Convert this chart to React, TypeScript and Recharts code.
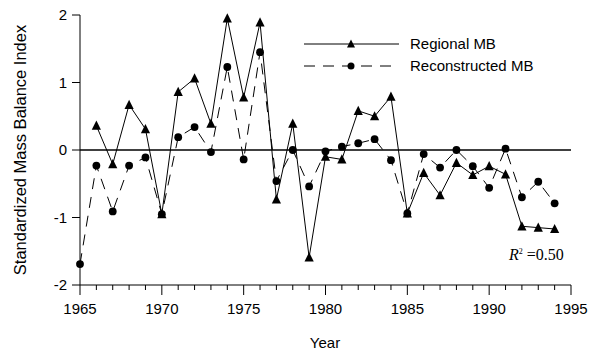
import React from 'react';
import { LineChart, Line, XAxis, YAxis, ReferenceLine, Label } from 'recharts';

const years = [1965, 1966, 1967, 1968, 1969, 1970, 1971, 1972, 1973, 1974, 1975, 1976, 1977, 1978, 1979, 1980, 1981, 1982, 1983, 1984, 1985, 1986, 1987, 1988, 1989, 1990, 1991, 1992, 1993, 1994];
const regionalMB = [null, 0.36, -0.21, 0.67, 0.31, -0.95, 0.86, 1.06, 0.39, 1.95, 0.78, 1.89, -0.73, 0.39, -1.59, -0.1, -0.14, 0.58, 0.5, 0.79, -0.94, -0.34, -0.67, -0.19, -0.37, -0.24, -0.36, -1.13, -1.15, -1.17];
const reconstructedMB = [-1.69, -0.23, -0.91, -0.23, -0.11, -0.95, 0.19, 0.34, -0.03, 1.23, -0.14, 1.45, -0.46, 0.0, -0.54, -0.02, 0.05, 0.1, 0.16, -0.15, -0.94, -0.06, -0.26, 0.0, -0.24, -0.56, 0.02, -0.7, -0.47, -0.79];
const xTicks = [1965, 1966, 1967, 1968, 1969, 1970, 1971, 1972, 1973, 1974, 1975, 1976, 1977, 1978, 1979, 1980, 1981, 1982, 1983, 1984, 1985, 1986, 1987, 1988, 1989, 1990, 1991, 1992, 1993, 1994, 1995];
const xMajorTicks = [1965, 1970, 1975, 1980, 1985, 1990, 1995];
const yTicks = [-2, -1, 0, 1, 2];
const seriesNames = ['Regional MB', 'Reconstructed MB'];

const data = years.map((y, i) => ({ year: y, regional: regionalMB[i], reconstructed: reconstructedMB[i] }));

const FONT = 'Liberation Sans, Arial, sans-serif';

const Triangle = (props: any) => {
  const { cx, cy, index } = props;
  if (cx == null || cy == null || props.value == null) return <g key={'t' + index} />;
  const s = 4.6;
  return <polygon key={'t' + index} points={`${cx},${cy - s - 0.5} ${cx - s},${cy + s - 0.5} ${cx + s},${cy + s - 0.5}`} fill="#000" />;
};

const Dot = (props: any) => {
  const { cx, cy, index } = props;
  if (cx == null || cy == null || props.value == null) return <g key={'c' + index} />;
  return <circle key={'c' + index} cx={cx} cy={cy} r={3.9} fill="#000" />;
};

const XTick = (props: any) => {
  const { x, y, payload } = props;
  const major = xMajorTicks.includes(payload.value);
  return (
    <g>
      <line x1={x} x2={x} y1={y} y2={y + (major ? 10 : 5)} stroke="#000" strokeWidth={1} />
      {major && (
        <text x={x} y={y + 29} textAnchor="middle" fontSize={15} fontFamily={FONT} fill="#000">
          {payload.value}
        </text>
      )}
    </g>
  );
};

const LegendBox = () => (
  <svg width={240} height={50} style={{ position: 'absolute', left: 304, top: 32, overflow: 'visible' }}>
    <line x1={0} x2={95} y1={12} y2={12} stroke="#000" strokeWidth={1} />
    <polygon points={`47,7.5 43,15.5 51,15.5`} fill="#000" />
    <text x={106} y={17} fontSize={15} fontFamily={FONT} fill="#000">{seriesNames[0]}</text>
    <line x1={0} x2={95} y1={34} y2={34} stroke="#000" strokeWidth={1} strokeDasharray="11 8" />
    <circle cx={47} cy={34} r={3.5} fill="#000" />
    <text x={106} y={39} fontSize={15} fontFamily={FONT} fill="#000">{seriesNames[1]}</text>
  </svg>
);

export default function App() {
  return (
    <div style={{ position: 'absolute', left: 0, top: 0, width: 597, height: 356, background: '#fff' }}>
      <LineChart width={597} height={356} data={data} margin={{ top: 15, right: 26, bottom: 0, left: 0 }}>
        <XAxis
          dataKey="year"
          type="number"
          domain={[1965, 1995]}
          ticks={xTicks}
          interval={0}
          tickSize={0}
          tickMargin={0}
          tickLine={false}
          tick={<XTick />}
          height={71}
          stroke="#000"
          axisLine={{ stroke: '#000' }}
        >
          <Label
            content={() => (
              <text x={325} y={348} textAnchor="middle" fontSize={15} fontFamily={FONT} fill="#000">Year</text>
            )}
          />
        </XAxis>
        <YAxis
          type="number"
          domain={[-2, 2]}
          ticks={yTicks}
          width={80}
          tickSize={8}
          tickMargin={5}
          stroke="#000"
          tick={{ fill: '#000', fontSize: 15, fontFamily: FONT }}
          tickLine={{ stroke: '#000' }}
          axisLine={{ stroke: '#000' }}
        >
          <Label
            content={() => (
              <text
                x={20}
                y={150}
                transform="rotate(-90, 20, 150)"
                textAnchor="middle"
                dominantBaseline="central"
                fontSize={16.5}
                fontFamily={FONT}
                fill="#000"
              >
                Standardized Mass Balance Index
              </text>
            )}
          />
        </YAxis>
        <ReferenceLine y={0} stroke="#000" strokeWidth={1.5} />
        <Line
          dataKey="regional"
          name={seriesNames[0]}
          stroke="#000"
          strokeWidth={1}
          dot={<Triangle />}
          activeDot={false}
          isAnimationActive={false}
          connectNulls={false}
        />
        <Line
          dataKey="reconstructed"
          name={seriesNames[1]}
          stroke="#000"
          strokeWidth={1}
          strokeDasharray="11 8"
          dot={<Dot />}
          activeDot={false}
          isAnimationActive={false}
        />
      </LineChart>
      <LegendBox />
      <div
        style={{
          position: 'absolute',
          left: 509,
          top: 246,
          fontFamily: 'Liberation Serif, Times New Roman, serif',
          fontSize: 16,
          color: '#000',
          whiteSpace: 'nowrap',
        }}
      >
        <i>R</i>
        <sup style={{ fontSize: 8 }}>2</sup> =0.50
      </div>
    </div>
  );
}
